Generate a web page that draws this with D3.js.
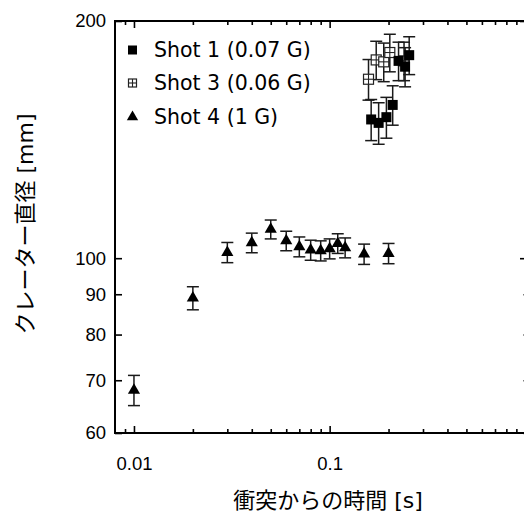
<!DOCTYPE html>
<html><head><meta charset="utf-8">
<script src="https://cdn.jsdelivr.net/npm/d3@7"></script>
<style>body{margin:0;background:#fff}</style>
</head><body>
<script>
// Data
const shot1Time = [0.163, 0.178, 0.195, 0.21, 0.225, 0.243, 0.255];
const shot1Diam = [150, 148.5, 151, 156.5, 178, 175, 181];
const shot1Err  = [9, 9, 9, 9, 10, 10, 10];
const shot3Time = [0.158, 0.173, 0.189, 0.203, 0.24];
const shot3Diam = [168.7, 178.5, 177.5, 182.4, 178];
const shot3Err  = [10, 10, 10, 10, 10];
const shot4Time = [0.01, 0.02, 0.03, 0.04, 0.05, 0.06, 0.07, 0.08, 0.09, 0.1, 0.11, 0.12, 0.15, 0.2];
const shot4Diam = [68, 89, 101.7, 104.6, 108.8, 105.2, 103.4, 102.4, 102.2, 102.8, 104.4, 103.1, 101.2, 101.4];
const shot4Err  = [3, 3, 3, 3, 3, 3, 3, 3, 3, 3, 3, 3, 3, 3];
const xMajorTicks = [0.01, 0.1, 1];
const xTickLabels = ["0.01", "0.1", ""];
const xMinorTicks = [0.009, 0.02, 0.03, 0.04, 0.05, 0.06, 0.07, 0.08, 0.09, 0.2, 0.3, 0.4, 0.5, 0.6, 0.7, 0.8, 0.9];
const yTicks = [60, 70, 80, 90, 100, 200];
const legendLabels = ["Shot 1 (0.07 G)", "Shot 3 (0.06 G)", "Shot 4 (1 G)"];
const xTitle = "衝突からの時間 [s]";
const yTitle = "クレーター直径 [mm]";

const W = 524, H = 513;
const L = 115, R = 527, T = 21, B = 433;

const svg = d3.select("body").append("svg").attr("width", W).attr("height", H);
const x = d3.scaleLog().domain([0.008, 1.02]).range([L, R]);
const y = d3.scaleLog().domain([60, 200]).range([B, T]);

const tickFont = "'Liberation Sans', Arial, sans-serif";

function styleAxis(g) {
  g.select(".domain").remove();
  g.selectAll("line").attr("stroke", "#000").attr("stroke-width", 1.6);
  g.selectAll("text").attr("font-family", tickFont).attr("font-size", 18.5).attr("fill", "#000");
}

// bottom
svg.append("g").attr("transform", `translate(0,${B})`)
  .call(d3.axisBottom(x).tickValues(xMajorTicks).tickSize(-7).tickPadding(24)
    .tickFormat((d, i) => xTickLabels[i]))
  .call(styleAxis);
svg.append("g").attr("transform", `translate(0,${B})`)
  .call(d3.axisBottom(x).tickValues(xMinorTicks).tickSize(-4).tickFormat(""))
  .call(styleAxis);
// top
svg.append("g").attr("transform", `translate(0,${T})`)
  .call(d3.axisTop(x).tickValues(xMajorTicks).tickSize(-7).tickFormat(""))
  .call(styleAxis);
svg.append("g").attr("transform", `translate(0,${T})`)
  .call(d3.axisTop(x).tickValues(xMinorTicks).tickSize(-4).tickFormat(""))
  .call(styleAxis);
// left
svg.append("g").attr("transform", `translate(${L},0)`)
  .call(d3.axisLeft(y).tickValues(yTicks).tickSize(-7).tickPadding(9).tickFormat(d3.format("d")))
  .call(styleAxis);
// right
svg.append("g").attr("transform", `translate(${R},0)`)
  .call(d3.axisRight(y).tickValues([100, 200]).tickSize(-7).tickFormat(""))
  .call(styleAxis);
svg.append("g").attr("transform", `translate(${R},0)`)
  .call(d3.axisRight(y).tickValues([60, 70, 80, 90]).tickSize(-3.5).tickFormat(""))
  .call(styleAxis);

// frame
svg.append("rect").attr("x", L).attr("y", T).attr("width", R - L).attr("height", B - T)
  .attr("fill", "none").attr("stroke", "#000").attr("stroke-width", 2);

const ebColor = "#1a1a1a";
function errorBars(times, diams, errs) {
  const g = svg.append("g").attr("stroke", ebColor).attr("stroke-width", 1.5);
  const data = times.map((t, i) => ({t, d: diams[i], e: errs[i]}));
  g.selectAll("line.v").data(data).join("line")
    .attr("x1", d => x(d.t)).attr("x2", d => x(d.t))
    .attr("y1", d => y(d.d + d.e)).attr("y2", d => y(d.d - d.e));
  g.selectAll("line.t").data(data).join("line")
    .attr("x1", d => x(d.t) - 6).attr("x2", d => x(d.t) + 6)
    .attr("y1", d => y(d.d + d.e)).attr("y2", d => y(d.d + d.e));
  g.selectAll("line.b").data(data).join("line")
    .attr("x1", d => x(d.t) - 6).attr("x2", d => x(d.t) + 6)
    .attr("y1", d => y(d.d - d.e)).attr("y2", d => y(d.d - d.e));
  return data;
}

function gridSquare(g, cx, cy, s) {
  g.append("rect").attr("x", cx - s / 2).attr("y", cy - s / 2).attr("width", s).attr("height", s)
    .attr("fill", "#fff").attr("stroke", "#222").attr("stroke-width", 1.2);
  g.append("line").attr("x1", cx - s / 2).attr("x2", cx + s / 2).attr("y1", cy).attr("y2", cy)
    .attr("stroke", "#222").attr("stroke-width", 1.1);
  g.append("line").attr("x1", cx).attr("x2", cx).attr("y1", cy - s / 2).attr("y2", cy + s / 2)
    .attr("stroke", "#222").attr("stroke-width", 1.1);
}

const tri = d3.symbol().type(d3.symbolTriangle).size(64);

// Shot 4
const d4 = errorBars(shot4Time, shot4Diam, shot4Err);
svg.append("g").selectAll("path").data(d4).join("path")
  .attr("d", tri).attr("transform", d => `translate(${x(d.t)},${y(d.d)})`).attr("fill", "#000");

// Shot 3
const d3s = errorBars(shot3Time, shot3Diam, shot3Err);
const g3 = svg.append("g");
d3s.forEach(d => gridSquare(g3, x(d.t), y(d.d), 10));

// Shot 1
const d1 = errorBars(shot1Time, shot1Diam, shot1Err);
svg.append("g").selectAll("rect").data(d1).join("rect")
  .attr("x", d => x(d.t) - 5).attr("y", d => y(d.d) - 5).attr("width", 10).attr("height", 10)
  .attr("fill", "#000");

// Legend
const legFont = "'DejaVu Sans', Verdana, sans-serif";
const legRows = [50, 83, 117];
const mx = 132.5, tx = 154;
svg.append("rect").attr("x", mx - 4.5).attr("y", legRows[0] - 4.5).attr("width", 9).attr("height", 9).attr("fill", "#000");
gridSquare(svg.append("g"), mx, legRows[1], 8);
svg.append("path").attr("d", d3.symbol().type(d3.symbolTriangle).size(56)()).attr("transform", `translate(${mx},${legRows[2]})`).attr("fill", "#000");
legendLabels.forEach((lab, i) => {
  svg.append("text").attr("x", tx).attr("y", legRows[i] + 7.4)
    .attr("font-family", legFont).attr("font-size", 20.5).attr("fill", "#000").text(lab);
});

// Titles
const titleFont = "'DejaVu Sans', 'Noto Sans CJK JP', 'Noto Sans CJK SC', sans-serif";
svg.append("text").attr("x", 328).attr("y", 508).attr("text-anchor", "middle")
  .attr("font-family", titleFont).attr("font-size", 22).attr("fill", "#000").text(xTitle);
svg.append("text").attr("transform", "translate(33,224) rotate(-90)").attr("text-anchor", "middle")
  .attr("font-family", titleFont).attr("font-size", 22).attr("fill", "#000").text(yTitle);
</script>
</body></html>
